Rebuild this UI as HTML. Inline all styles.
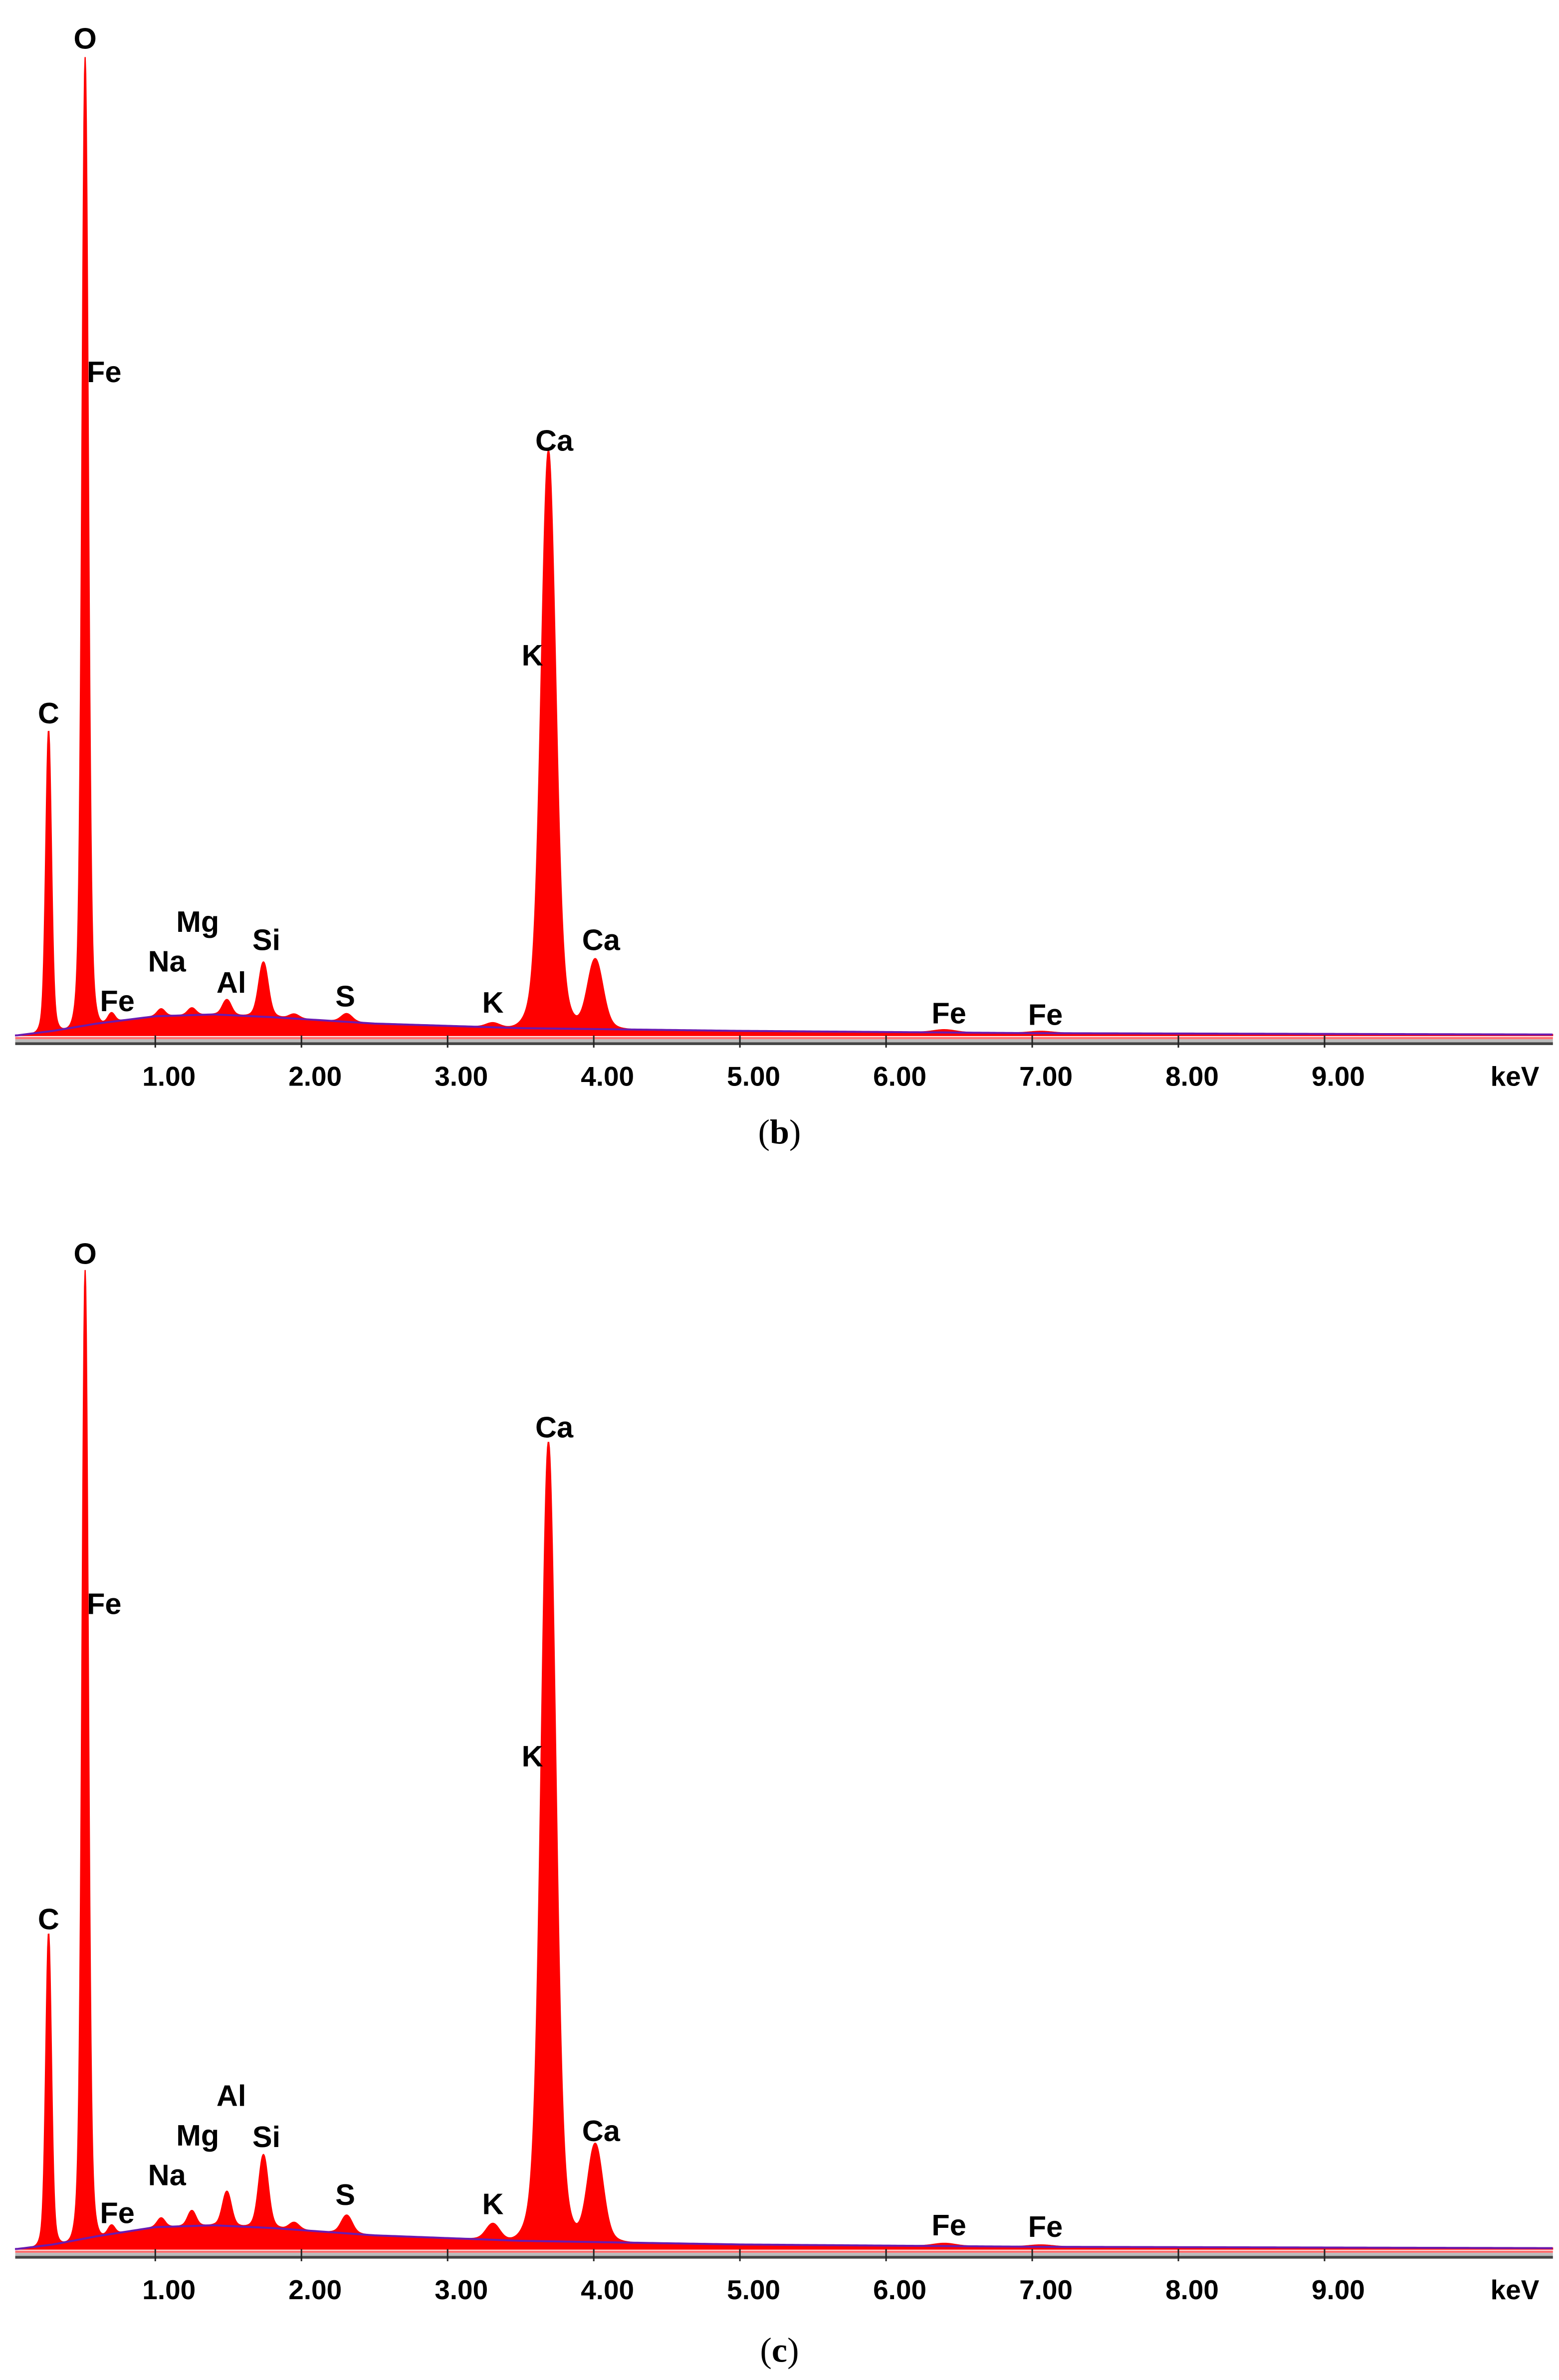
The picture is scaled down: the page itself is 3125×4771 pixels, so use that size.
<!DOCTYPE html>
<html><head><meta charset="utf-8"><style>
html,body{margin:0;padding:0;background:#fff;}
svg{display:block;}
.el{font-family:"Liberation Sans",Arial,sans-serif;font-weight:bold;font-size:19.5px;fill:#000;text-anchor:middle;}
.tk{font-family:"Liberation Sans",Arial,sans-serif;font-weight:bold;font-size:18px;fill:#000;text-anchor:middle;}
.cap{font-family:"Liberation Serif",serif;font-size:23px;fill:#000;text-anchor:middle;}
</style></head><body>
<svg id="fig" width="3125" height="4771" viewBox="0 0 1024 1563" preserveAspectRatio="none" xmlns="http://www.w3.org/2000/svg">
<rect width="1024" height="1563" fill="#fff"/>
</svg>
<script>
// ---- data ----
const peakEnergies = [0.27, 0.52, 0.70, 1.04, 1.25, 1.49, 1.74, 1.95, 2.31, 3.31, 3.69, 4.01, 6.40, 7.06];
const peakHeightsB = [330, 1060, 10, 8, 8, 17, 60, 5, 9, 5, 633, 77, 3, 2];
const peakHeightsC = [342, 1060, 10, 10, 17, 38, 80, 8, 20, 18, 875, 108, 3, 2];
const bgEnergies = [0.05, 0.3, 0.6, 1.0, 1.4, 1.8, 2.5, 3.5, 5.0, 7.0, 10.6];
const bgCountsB = [0, 5, 13, 21, 23, 20, 13, 8, 5, 2.5, 1];
const bgCountsC = [0, 5, 14, 24, 26, 23, 15, 9, 5, 2.5, 1];
const tickValues = [1, 2, 3, 4, 5, 6, 7, 8, 9];
const tickLabels = ["1.00","2.00","3.00","4.00","5.00","6.00","7.00","8.00","9.00"];
const labelsB = [["O",0.52,25],["Fe",0.65,244],["C",0.27,468],["Ca",3.73,289],["K",3.58,430],["Mg",1.29,605],["Na",1.08,631],["Al",1.52,645],["Si",1.76,617],["Fe",0.74,657],["S",2.30,654],["K",3.31,658],["Ca",4.05,617],["Fe",6.43,665],["Fe",7.09,666]];
const labelsC = [["O",0.52,823],["Fe",0.65,1053],["C",0.27,1260],["Ca",3.73,937],["K",3.58,1153],["Al",1.52,1376],["Mg",1.29,1402],["Si",1.76,1403],["Na",1.08,1428],["Fe",0.74,1453],["S",2.30,1441],["K",3.31,1447],["Ca",4.05,1399],["Fe",6.43,1461],["Fe",7.09,1462]];

const svg = document.getElementById('fig');
const NS = 'http://www.w3.org/2000/svg';
const x = e => 6 + e * 96;
const pxPerCount = 0.6;
function bg(e, counts){
  if (e <= bgEnergies[0]) return counts[0];
  for (let i=1;i<bgEnergies.length;i++){
    if (e <= bgEnergies[i]){
      const t=(e-bgEnergies[i-1])/(bgEnergies[i]-bgEnergies[i-1]);
      return counts[i-1]+t*(counts[i]-counts[i-1]);
    }
  }
  return counts[counts.length-1];
}
function spec(e, heights, bgc){
  let s = bg(e, bgc);
  for (let i=0;i<peakEnergies.length;i++){
    const sig = 0.016 + 0.0085*peakEnergies[i];
    const d = (e-peakEnergies[i])/sig;
    const d2 = d/1.9;
    s += heights[i]*(0.88*Math.exp(-0.5*d*d) + 0.12*Math.exp(-0.5*d2*d2));
  }
  return s;
}
function mk(tag, attrs, parent){
  const el = document.createElementNS(NS, tag);
  for (const k in attrs) el.setAttribute(k, attrs[k]);
  (parent||svg).appendChild(el);
  return el;
}
function panel(base, heights, bgc, labels, cap, id){
  const g = mk('g', {});
  
  
  const y = c => base - c*pxPerCount;
  let d = 'M' + x(0.04) + ' ' + base;
  for (let e=0.04; e<=10.56; e+=0.004) d += ' L' + x(e).toFixed(2) + ' ' + y(spec(e,heights,bgc)).toFixed(2);
  d += ' L' + x(10.56) + ' ' + base + ' Z';
  const p = mk('path', {d:d, fill:'#ff0000', stroke:'#ff0000', 'stroke-width':0.8}, g);
  
  
  let bl = '';
  for (let e=0.04; e<=10.56; e+=0.02) bl += (bl?' L':'M') + x(e).toFixed(2) + ' ' + y(bg(e,bgc)).toFixed(2);
  const b = mk('path', {d:bl, fill:'none', stroke:'#6a1ab0', 'stroke-width':1.3}, g);
  
  
  const ax = mk('g', {}, g);
  
  
  mk('rect', {x:10, y:base+1, width:1010, height:1.5, fill:'#ff7070'}, ax);
  mk('rect', {x:10, y:base+2.5, width:1010, height:2, fill:'#bbbbbb'}, ax);
  mk('rect', {x:10, y:base+4.5, width:1010, height:1.8, fill:'#444'}, ax);
  tickValues.forEach((v,i)=>{
    mk('line', {x1:x(v), x2:x(v), y1:base, y2:base+8, stroke:'#222', 'stroke-width':1}, ax);
    const t = mk('text', {x:x(v)+9, y:base+33, class:'tk'}, ax);
    
    
    t.textContent = tickLabels[i];
  });
  const kv = mk('text', {x:995, y:base+33, class:'tk'}, ax);
  
  
  kv.textContent = 'keV';
  labels.forEach(l=>{
    const t = mk('text', {x:x(l[1]), y:l[2]+7, class:'el'}, g);
    
    
    t.textContent = l[0];
  });
  const c = mk('text', {x:512, y:cap, class:'cap'}, g);
  
  
  c.innerHTML = '(<tspan font-weight="bold">' + id + '</tspan>)';
}
panel(680, peakHeightsB, bgCountsB, labelsB, 751, 'b');
panel(1477, peakHeightsC, bgCountsC, labelsC, 1551, 'c');
</script>
</body></html>
